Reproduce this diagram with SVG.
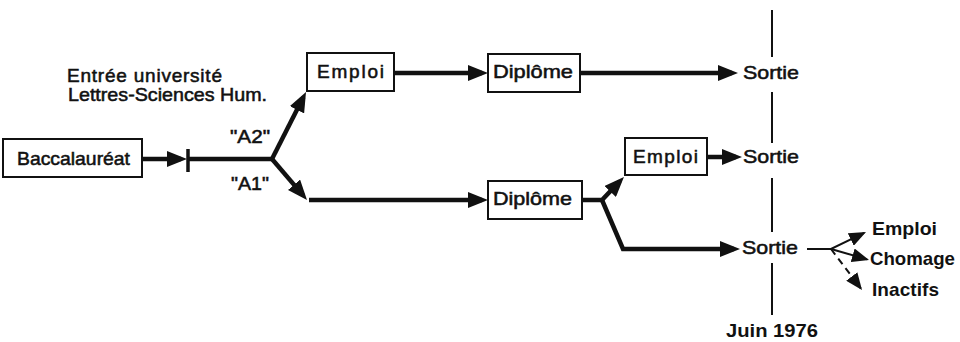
<svg xmlns="http://www.w3.org/2000/svg" width="960" height="342" viewBox="0 0 960 342">
<style>
text{font-family:"Liberation Sans",Arial,Helvetica,sans-serif;font-size:19px;fill:#111;}
.t{stroke:#111;stroke-width:0.55;}
.b{font-weight:bold;}
.box{fill:#fff;stroke:#111;stroke-width:2;}
.ln{fill:none;stroke:#111;stroke-width:4.5;}
.thin{fill:none;stroke:#111;stroke-width:2;}
</style>
<defs>
<marker id="ah" markerUnits="userSpaceOnUse" markerWidth="20" markerHeight="16" viewBox="0 0 20 16" refX="14" refY="8" orient="auto"><path d="M0,0 L20,8 L0,16 z" fill="#111"/></marker>
<marker id="ahs" markerUnits="userSpaceOnUse" markerWidth="17" markerHeight="14" viewBox="0 0 17 14" refX="15" refY="7" orient="auto"><path d="M0,0 L17,7 L0,14 z" fill="#111"/></marker>
</defs>
<rect width="960" height="342" fill="#fff"/>
<g id="connectors">
<path class="ln" d="M142,159 L181,159" marker-end="url(#ah)"/>
<line x1="188" y1="149" x2="188" y2="172" stroke="#111" stroke-width="3.5"/>
<path class="ln" d="M187,159 L272,159"/>
<path class="ln" d="M272,159 L303.3,97.3" marker-end="url(#ah)"/>
<path class="ln" d="M272,159 L303.1,195.4" marker-end="url(#ah)"/>
<path class="ln" d="M309,200 L482,200" marker-end="url(#ah)"/>
<path class="ln" d="M394,73 L482,73" marker-end="url(#ah)"/>
<path class="ln" d="M580,73 L732,73" marker-end="url(#ah)"/>
<path class="ln" d="M582,200 L602,200 L619.8,181.3" marker-end="url(#ah)"/>
<path class="ln" d="M602,200 L623,249 L734,249" marker-end="url(#ah)"/>
<path class="ln" d="M707,157 L736,157" marker-end="url(#ah)"/>
<path class="thin" d="M807,249 L831,249 L864.2,232.9" marker-end="url(#ahs)"/>
<path class="thin" d="M831,249 L867.1,259.4" marker-end="url(#ahs)"/>
<path class="thin" d="M831,249 L860.8,288.4" stroke-dasharray="7,5" marker-end="url(#ahs)"/>
</g>
<g id="juin-line">
<line class="thin" x1="772" y1="10" x2="772" y2="57"/>
<line class="thin" x1="772" y1="92" x2="772" y2="143"/>
<line class="thin" x1="772" y1="178" x2="772" y2="232"/>
<line class="thin" x1="772" y1="263" x2="772" y2="315"/>
</g>
<g id="baccalaureat">
<rect class="box" x="3" y="139" width="139" height="38"/>
<text class="t" x="17" y="165" textLength="113" lengthAdjust="spacingAndGlyphs">Baccalauréat</text>
</g>
<g id="entree">
<text class="t" x="67" y="82" textLength="155" lengthAdjust="spacing">Entrée université</text>
<text class="t" x="68" y="101" textLength="199" lengthAdjust="spacingAndGlyphs">Lettres-Sciences Hum.</text>
</g>
<g id="a2"><text class="t" x="230" y="143" textLength="40" lengthAdjust="spacingAndGlyphs">"A2"</text></g>
<g id="a1"><text class="t" x="231" y="190" textLength="38" lengthAdjust="spacingAndGlyphs">"A1"</text></g>
<g id="emploi-top">
<rect class="box" x="307" y="53" width="87" height="38"/>
<text class="t" x="317" y="78" textLength="67" lengthAdjust="spacing">Emploi</text>
</g>
<g id="diplome-top">
<rect class="box" x="488" y="54" width="92" height="38"/>
<text class="t" x="493" y="78" textLength="80" lengthAdjust="spacingAndGlyphs">Diplôme</text>
</g>
<g id="sortie-top"><text class="t" x="743" y="79" textLength="56" lengthAdjust="spacingAndGlyphs">Sortie</text></g>
<g id="diplome-bottom">
<rect class="box" x="488" y="181" width="94" height="38"/>
<text class="t" x="493" y="205" textLength="79" lengthAdjust="spacingAndGlyphs">Diplôme</text>
</g>
<g id="emploi-mid">
<rect class="box" x="625" y="138" width="82" height="37"/>
<text class="t" x="633" y="163" textLength="65" lengthAdjust="spacing">Emploi</text>
</g>
<g id="sortie-mid"><text class="t" x="743" y="163" textLength="56" lengthAdjust="spacingAndGlyphs">Sortie</text></g>
<g id="sortie-bottom"><text class="t" x="742" y="254" textLength="56" lengthAdjust="spacingAndGlyphs">Sortie</text></g>
<g id="emploi-right"><text class="b" x="872" y="235" textLength="65" lengthAdjust="spacingAndGlyphs">Emploi</text></g>
<g id="chomage"><text class="b" x="870" y="265" textLength="85" lengthAdjust="spacingAndGlyphs">Chomage</text></g>
<g id="inactifs"><text class="b" x="872" y="296" textLength="67" lengthAdjust="spacing">Inactifs</text></g>
<g id="juin"><text class="b" x="726" y="337" textLength="92" lengthAdjust="spacingAndGlyphs">Juin 1976</text></g>
</svg>
